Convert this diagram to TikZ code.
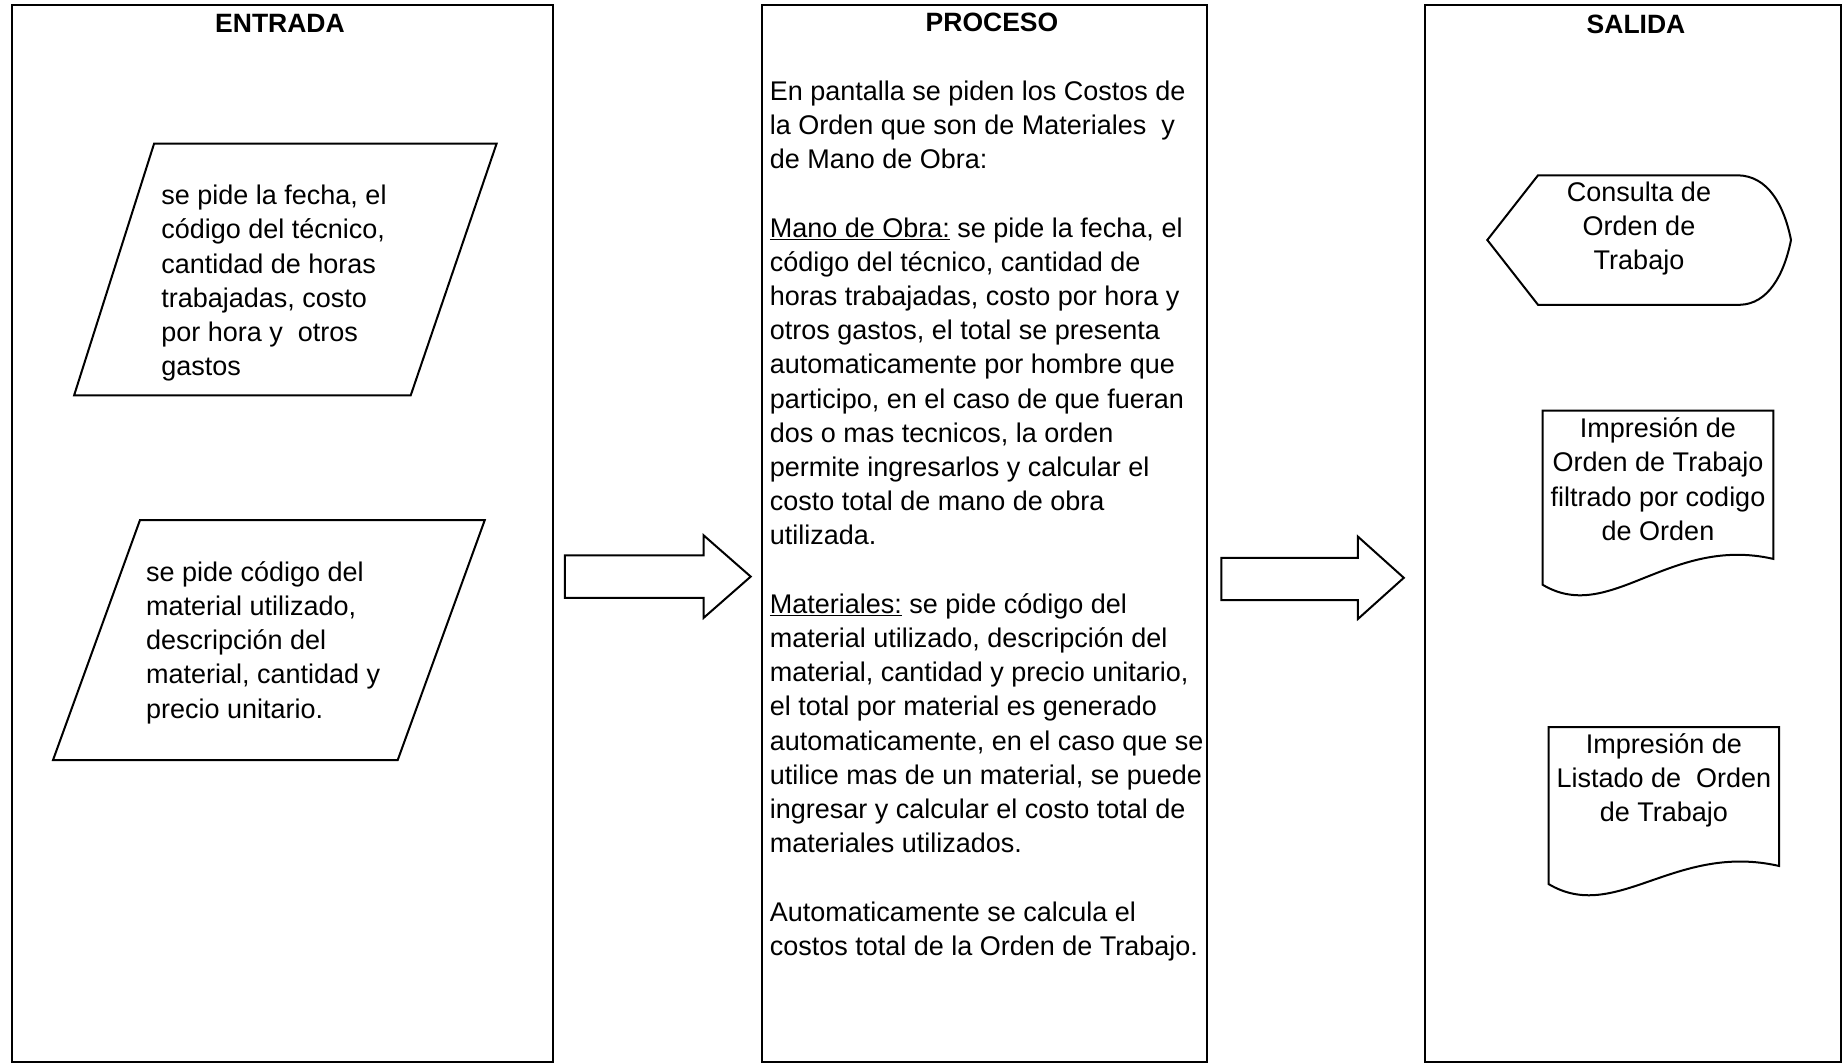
\documentclass[tikz,border=0pt]{standalone}
\usepackage{fontspec}
\setmainfont{Liberation Sans}
\begin{document}
\begin{tikzpicture}[x=1pt,y=-1pt,
  frame/.style={draw=black, line width=1.6pt},
  shp/.style={draw=black, line width=2pt, line join=miter},
  ttl/.style={font=\fontsize{26.5}{32}\selectfont\bfseries, anchor=base, inner sep=0pt},
  txt/.style={font=\fontsize{27}{34.2}\selectfont, align=left, anchor=north west, inner sep=0pt},
  ctxt/.style={font=\fontsize{27}{34.2}\selectfont, align=center, anchor=north, inner sep=0pt}]
\useasboundingbox (0,0) rectangle (1845,1064);

% column frames
\draw[frame] (12,5) rectangle (553,1062);
\draw[frame] (762,5) rectangle (1207,1062);
\draw[frame] (1425,5) rectangle (1841,1062);

% titles
\node[ttl] (tEnt) at (280,33) {ENTRADA};
\node[ttl] (tPro) at (992,32) {PROCESO};
\node[ttl] (tSal) at (1636,34) {SALIDA};

% input parallelograms
\draw[shp] (154.1,143.6) -- (496.6,143.6) -- (410.7,395.4) -- (74.1,395.4) -- cycle;
\node[txt] (in1) at (161.2,180.6) {\strut se pide la fecha, el\\código del técnico,\\cantidad de horas\\trabajadas, costo\\por hora y~ otros\\gastos};

\draw[shp] (140,520) -- (484.8,520) -- (397.7,760.1) -- (53,760.1) -- cycle;
\node[txt] (in2) at (145.9,557.1) {\strut se pide código del\\material utilizado,\\descripción del\\material, cantidad y\\precio unitario.};

% block arrows
\draw[shp] (564.8,555.4) -- (703.7,555.4) -- (703.7,535.4) -- (750.7,576.6) -- (703.7,617.8) -- (703.7,597.8) -- (564.8,597.8) -- cycle;
\draw[shp] (1221.4,557.8) -- (1357.9,557.8) -- (1357.9,536.6) -- (1403.8,577.8) -- (1357.9,619) -- (1357.9,600.1) -- (1221.4,600.1) -- cycle;

% process text
\node[txt] (proc) at (769.6,76.1) {\strut En pantalla se piden los Costos de\\la Orden que son de Materiales~ y\\de Mano de Obra:\\[34.2pt]
\underline{Mano de Obra:} se pide la fecha, el\\código del técnico, cantidad de\\horas trabajadas, costo por hora y\\otros gastos, el total se presenta\\automaticamente por hombre que\\participo, en el caso de que fueran\\dos o mas tecnicos, la orden\\permite ingresarlos y calcular el\\costo total de mano de obra\\utilizada.\\[34.2pt]
\underline{Materiales:} se pide código del\\material utilizado, descripción del\\material, cantidad y precio unitario,\\el total por material es generado\\automaticamente, en el caso que se\\utilice mas de un material, se puede\\ingresar y calcular el costo total de\\materiales utilizados.\\[34.2pt]
Automaticamente se calcula el\\costos total de la Orden de Trabajo.};

% display shape
\draw[shp] (1487.3,240) -- (1538,175.3) -- (1738,175.3) .. controls (1768,176) and (1784,205) .. (1791,240) .. controls (1784,275) and (1768,304) .. (1740,304.8) -- (1538,304.8) -- cycle;
\node[ctxt] (disp) at (1639,177.1) {\strut Consulta de\\Orden de\\Trabajo};

% documents
\draw[shp] (1542.7,410.7) -- (1773.3,410.7) -- (1773.3,558.9) .. controls (1669,535) and (1610,625) .. (1542.7,584.8) -- cycle;
\node[ctxt] (doc1) at (1658,413.6) {\strut Impresión de\\Orden de Trabajo\\filtrado por codigo\\de Orden};

\draw[shp] (1548.5,727.2) -- (1779.2,727.2) -- (1779.2,866) .. controls (1674.8,842) and (1615.8,924.2) .. (1548.5,884) -- cycle;
\node[ctxt] (doc2) at (1663.9,729.1) {\strut Impresión de\\Listado de~ Orden\\de Trabajo};
\end{tikzpicture}
\end{document}
